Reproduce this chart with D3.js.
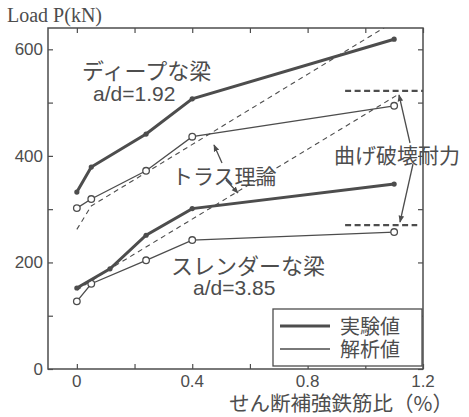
<!DOCTYPE html>
<html>
<head>
<meta charset="utf-8">
<script src="https://cdn.jsdelivr.net/npm/d3@7"></script>
<style>
  html, body { margin: 0; padding: 0; background: #fff; }
  svg { display: block; }
  .jp { font-family: "Noto Sans CJK JP", "Noto Sans", sans-serif; }
  .num { font-family: "Liberation Sans", Arial, sans-serif; }
</style>
</head>
<body>
<svg id="chart" width="469" height="417"></svg>
<script>
// Shear reinforcement ratio (%) vs. load capacity P (kN)
const deepExpX   = [0, 0.05, 0.24, 0.4, 1.1];
const deepExpY   = [332, 379, 441, 507, 619];
const deepAnaX   = [0, 0.05, 0.24, 0.4, 1.1];
const deepAnaY   = [302, 319, 372, 436, 494];
const deepTrussX = [0, 0.05, 1.1];
const deepTrussY = [262, 306, 652];

const slenExpX   = [0, 0.115, 0.24, 0.4, 1.1];
const slenExpY   = [152, 188, 251, 301, 347];
const slenAnaX   = [0, 0.05, 0.24, 0.4, 1.1];
const slenAnaY   = [127, 160, 204, 242, 257];
const slenTrussX = [0, 0.115, 1.11];
const slenTrussY = [148, 188, 514];

// flexural capacity levels
const flexY   = [522, 270];
const flexX0  = [0.93, 0.93];
const flexX1  = [1.2, 1.18];

const xTicks      = [0, 0.2, 0.4, 0.6, 0.8, 1.0, 1.2];
const xTickLabels = [0, 0.4, 0.8, 1.2];
const yTicks      = [0, 100, 200, 300, 400, 500, 600];
const yTickLabels = [0, 200, 400, 600];

const ink = "#4d4d4d";
const svg = d3.select("#chart");
const L = 48, R = 423, T = 28, B = 369;

const x = d3.scaleLinear().domain([-0.1, 1.2]).range([L, R]);
const y = d3.scaleLinear().domain([0, 640]).range([B, T]);

const zip = (xs, ys) => xs.map((v, i) => [v, ys[i]]);
const line = d3.line().x(d => x(d[0])).y(d => y(d[1]));

const defs = svg.append("defs");
defs.append("clipPath").attr("id", "plot")
  .append("rect").attr("x", L).attr("y", T).attr("width", R - L).attr("height", B - T);
defs.append("marker").attr("id", "arrow").attr("viewBox", "0 0 10 10")
  .attr("refX", 9).attr("refY", 5).attr("markerWidth", 7).attr("markerHeight", 7)
  .attr("markerUnits", "userSpaceOnUse").attr("orient", "auto")
  .append("path").attr("d", "M0,1 L10,5 L0,9 Z").attr("fill", ink);

// axes (ticks pointing inward)
const gx = svg.append("g").attr("transform", `translate(0,${B})`)
  .call(d3.axisBottom(x).tickValues(xTicks).tickSize(-5).tickFormat(""));
const gxt = svg.append("g").attr("transform", `translate(0,${T})`)
  .call(d3.axisTop(x).tickValues(xTicks).tickSize(-5).tickFormat(""));
const gy = svg.append("g").attr("transform", `translate(${L},0)`)
  .call(d3.axisLeft(y).tickValues(yTicks).tickSize(-5).tickFormat(""));
const gyr = svg.append("g").attr("transform", `translate(${R},0)`)
  .call(d3.axisRight(y).tickValues(yTicks).tickSize(-5).tickFormat(""));
[gx, gxt, gy, gyr].forEach(g => {
  g.select(".domain").remove();
  g.selectAll("line").attr("stroke", ink).attr("stroke-width", 1.2);
});
svg.append("rect").attr("x", L).attr("y", T).attr("width", R - L).attr("height", B - T)
  .attr("fill", "none").attr("stroke", ink).attr("stroke-width", 1.5);

svg.append("g").selectAll("text").data(xTickLabels).join("text")
  .attr("class", "num").attr("x", d => x(d)).attr("y", 387)
  .attr("text-anchor", "middle").attr("font-size", 17).attr("fill", ink)
  .text(d => d === 0 ? "0" : d.toFixed(1));
svg.append("g").selectAll("text").data(yTickLabels).join("text")
  .attr("class", "num").attr("x", 43).attr("y", d => y(d) + 6)
  .attr("text-anchor", "end").attr("font-size", 17).attr("fill", ink)
  .text(d => d);

svg.append("text").attr("x", 7).attr("y", 22)
  .attr("font-family", "'Liberation Serif', 'Times New Roman', serif")
  .attr("font-size", 20).attr("fill", ink).text("Load P(kN)");
svg.append("text").attr("class", "jp").attr("x", 229).attr("y", 411)
  .attr("font-size", 20.5).attr("fill", ink).text("せん断補強鉄筋比（%）");

const plot = svg.append("g").attr("clip-path", "url(#plot)");

// truss theory (dashed)
[[deepTrussX, deepTrussY], [slenTrussX, slenTrussY]].forEach(([xs, ys]) => {
  plot.append("path").attr("d", line(zip(xs, ys)))
    .attr("fill", "none").attr("stroke", ink).attr("stroke-width", 1.1)
    .attr("stroke-dasharray", "5,4");
});

// flexural capacity (heavy dashed)
flexY.forEach((v, i) => {
  plot.append("line").attr("x1", x(flexX0[i])).attr("x2", x(flexX1[i]))
    .attr("y1", y(v)).attr("y2", y(v))
    .attr("stroke", ink).attr("stroke-width", 2.2).attr("stroke-dasharray", "6,3.5");
});

// analytical (thin, open circles)
[[deepAnaX, deepAnaY], [slenAnaX, slenAnaY]].forEach(([xs, ys]) => {
  const pts = zip(xs, ys);
  plot.append("path").attr("d", line(pts)).attr("fill", "none")
    .attr("stroke", ink).attr("stroke-width", 1.3);
  plot.append("g").selectAll("circle").data(pts).join("circle")
    .attr("cx", d => x(d[0])).attr("cy", d => y(d[1])).attr("r", 3.3)
    .attr("fill", "#fff").attr("stroke", ink).attr("stroke-width", 1.3);
});

// experimental (thick, filled dots)
[[deepExpX, deepExpY], [slenExpX, slenExpY]].forEach(([xs, ys]) => {
  const pts = zip(xs, ys);
  plot.append("path").attr("d", line(pts)).attr("fill", "none")
    .attr("stroke", ink).attr("stroke-width", 3);
  plot.append("g").selectAll("circle").data(pts).join("circle")
    .attr("cx", d => x(d[0])).attr("cy", d => y(d[1])).attr("r", 2.6)
    .attr("fill", ink);
});

// annotations
const ann = [
  ["ディープな梁", 82, 79, "jp", 22],
  ["a/d=1.92", 93, 101, "num", 21],
  ["トラス理論", 172, 184, "jp", 21],
  ["スレンダーな梁", 171, 274, "jp", 22],
  ["a/d=3.85", 193, 295, "num", 21],
  ["曲げ破壊耐力", 334, 163, "jp", 21]
];
svg.append("g").selectAll("text").data(ann).join("text")
  .attr("class", d => d[3]).attr("x", d => d[1]).attr("y", d => d[2])
  .attr("font-size", d => d[4]).attr("fill", ink)
  .text(d => d[0]);

const arrows = [
  [222, 163, 214, 145],
  [226, 180, 238, 193],
  [410, 143, 399, 95],
  [413, 164, 400, 222]
];
svg.append("g").selectAll("line").data(arrows).join("line")
  .attr("x1", d => d[0]).attr("y1", d => d[1]).attr("x2", d => d[2]).attr("y2", d => d[3])
  .attr("stroke", ink).attr("stroke-width", 1.3).attr("marker-end", "url(#arrow)");

// legend
const lg = svg.append("g");
lg.append("rect").attr("x", 273).attr("y", 309).attr("width", 149).attr("height", 57)
  .attr("fill", "#fff").attr("stroke", ink).attr("stroke-width", 1.3);
const legend = [["実験値", 3, 326], ["解析値", 1.3, 349]];
legend.forEach(([label, w, ly]) => {
  lg.append("line").attr("x1", 280).attr("x2", 330).attr("y1", ly).attr("y2", ly)
    .attr("stroke", ink).attr("stroke-width", w);
  lg.append("text").attr("class", "jp").attr("x", 340).attr("y", ly + 8)
    .attr("font-size", 20).attr("fill", ink).text(label);
});
</script>
</body>
</html>
